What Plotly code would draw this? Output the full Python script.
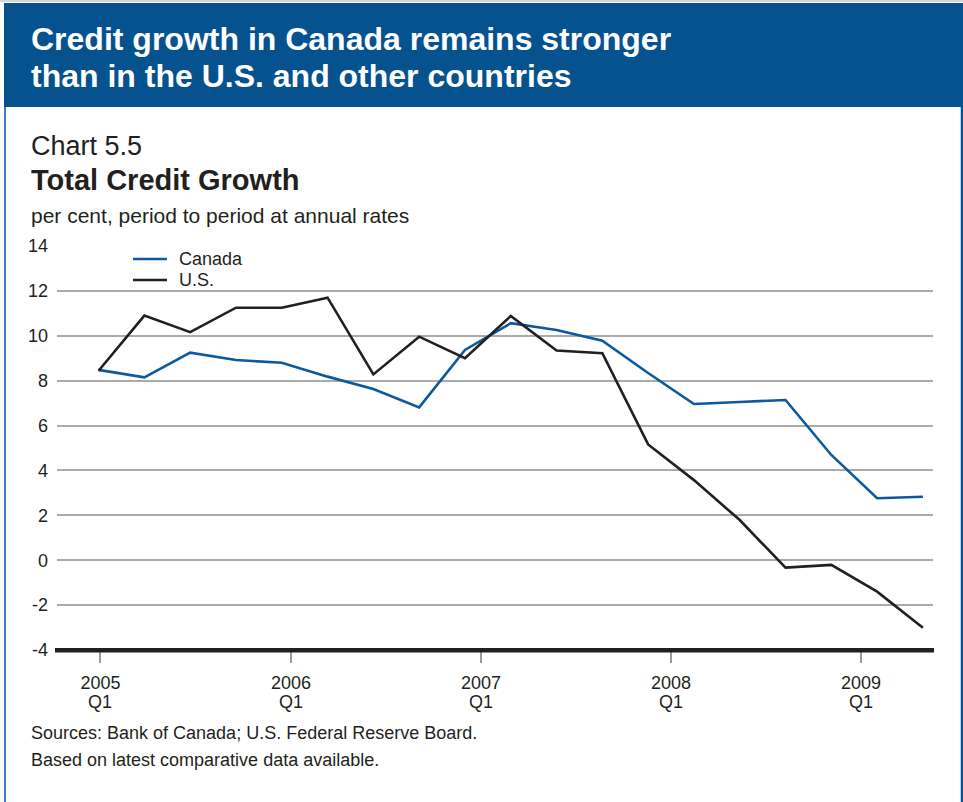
import plotly.graph_objects as go

# ---- data ----
quarters = ["2005Q1", "2005Q2", "2005Q3", "2005Q4", "2006Q1", "2006Q2", "2006Q3", "2006Q4",
            "2007Q1", "2007Q2", "2007Q3", "2007Q4", "2008Q1", "2008Q2", "2008Q3", "2008Q4",
            "2009Q1", "2009Q2", "2009Q3"]
canada = [8.48, 8.15, 9.25, 8.92, 8.80, 8.18, 7.63, 6.81, 9.37, 10.56,
          10.26, 9.78, 8.34, 6.96, 7.05, 7.14, 4.69, 2.76, 2.83]
us = [8.44, 10.90, 10.16, 11.25, 11.25, 11.70, 8.28, 9.96, 9.00, 10.88,
      9.34, 9.22, 5.16, 3.57, 1.79, -0.33, -0.21, -1.40, -3.01]
series_names = ["Canada", "U.S."]
year_labels = ["2005", "2006", "2007", "2008", "2009"]
quarter_label = "Q1"
y_ticks = [-4, -2, 0, 2, 4, 6, 8, 10, 12, 14]
y_tick_text = ["-4", "-2", "0", "2", "4", "6", "8", "10", "12", "14"]

xidx = list(range(len(quarters)))
tick_pos = [0.04, 4.2, 8.35, 12.5, 16.65]

# ---- geometry helpers (pixel -> paper) ----
FW, FH = 963, 802
L, R, T, B = 57, 933, 246, 650
W, H = R - L, B - T
def px(x):
    return (x - L) / W
def py(y):
    return (B - y) / H

FONT = "Liberation Sans, Arial, Helvetica, sans-serif"
TXT = "#231f20"
BLUE_BAR = "#05528f"
CAN_COL = "#0b5aa0"
US_COL = "#231f20"
colors = [CAN_COL, US_COL]

fig = go.Figure()
for name, vals, col in zip(series_names, [canada, us], colors):
    fig.add_trace(go.Scatter(x=xidx, y=vals, mode="lines", name=name,
                             line=dict(color=col, width=2.6), customdata=quarters,
                             hovertemplate="%{customdata}: %{y}<extra>" + name + "</extra>",
                             showlegend=False))

shapes = [
    # title bar
    dict(type="rect", xref="paper", yref="paper", x0=px(4), x1=px(963), y0=py(107), y1=py(3),
         fillcolor=BLUE_BAR, line=dict(width=0), layer="below"),
    # outer frame lines
    dict(type="line", xref="paper", yref="paper", x0=px(5), x1=px(5), y0=py(802), y1=py(107),
         line=dict(color="#3f7cc0", width=2)),
    dict(type="line", xref="paper", yref="paper", x0=px(962), x1=px(962), y0=py(802), y1=py(107),
         line=dict(color="#0b4f94", width=2.5)),
    dict(type="line", xref="paper", yref="paper", x0=px(0), x1=px(963), y0=py(1), y1=py(1),
         line=dict(color="#cfd8e2", width=2)),
    # thick bottom axis line (at y = -4)
    dict(type="line", xref="paper", yref="paper", x0=px(55), x1=px(934), y0=py(650.3), y1=py(650.3),
         line=dict(color=TXT, width=4.5), layer="above"),
]

annotations = [
    dict(text="Credit growth in Canada remains stronger", x=px(29), y=py(39),
         font=dict(size=32, color="white", family=FONT, weight="bold")),
    dict(text="than in the U.S. and other countries", x=px(29), y=py(76),
         font=dict(size=32, color="white", family=FONT, weight="bold")),
    dict(text="Chart 5.5", x=px(29), y=py(146), font=dict(size=27, color=TXT, family=FONT)),
    dict(text="<b>Total Credit Growth</b>", x=px(29), y=py(180), font=dict(size=29, color=TXT, family=FONT)),
    dict(text="per cent, period to period at annual rates", x=px(29), y=py(216),
         font=dict(size=21, color=TXT, family=FONT)),
    dict(text="Sources: Bank of Canada; U.S. Federal Reserve Board.", x=px(29), y=py(733),
         font=dict(size=18, color=TXT, family=FONT)),
    dict(text="Based on latest comparative data available.", x=px(29), y=py(760),
         font=dict(size=18, color=TXT, family=FONT)),
]
for a in annotations:
    a.update(xref="paper", yref="paper", xanchor="left", yanchor="middle", showarrow=False)

# manual legend
for i, (name, col) in enumerate(zip(series_names, colors)):
    ly = 259 + 21 * i
    shapes.append(dict(type="line", xref="paper", yref="paper", x0=px(133), x1=px(167),
                       y0=py(ly), y1=py(ly), line=dict(color=col, width=2.6)))
    annotations.append(dict(text=name, x=px(177), y=py(ly), xref="paper", yref="paper",
                            xanchor="left", yanchor="middle", showarrow=False,
                            font=dict(size=18, color=TXT, family=FONT)))

for tp in tick_pos:
    annotations.append(dict(text=quarter_label, x=tp, xref="x", y=py(702), yref="paper",
                            xanchor="center", yanchor="middle", showarrow=False,
                            font=dict(size=18, color=TXT, family=FONT)))

fig.update_layout(
    width=FW, height=FH, autosize=False,
    margin=dict(l=L, r=FW - R, t=T, b=FH - B, pad=0),
    paper_bgcolor="white", plot_bgcolor="white",
    font=dict(family=FONT, color=TXT, size=18),
    shapes=shapes, annotations=annotations,
    showlegend=False,
    xaxis=dict(range=[-0.908, 18.22], tickmode="array", tickvals=tick_pos, ticktext=year_labels,
               showgrid=False, zeroline=False, showline=False,
               ticks="outside", ticklen=12, tickwidth=1.5, tickcolor="#9a9a9a",
               tickfont=dict(size=18, color=TXT, family=FONT), ticklabelstandoff=4),
    yaxis=dict(range=[-4, 14], tickmode="array", tickvals=y_ticks, ticktext=y_tick_text,
               showgrid=True, gridcolor="#ababab", gridwidth=1.6, zeroline=False, showline=False,
               ticks="", tickfont=dict(size=18, color=TXT, family=FONT), ticklabelstandoff=8),
    hovermode="closest",
)

fig.write_html("out.html", config={"displayModeBar": False},
               post_script="document.body.style.margin='0px';")
